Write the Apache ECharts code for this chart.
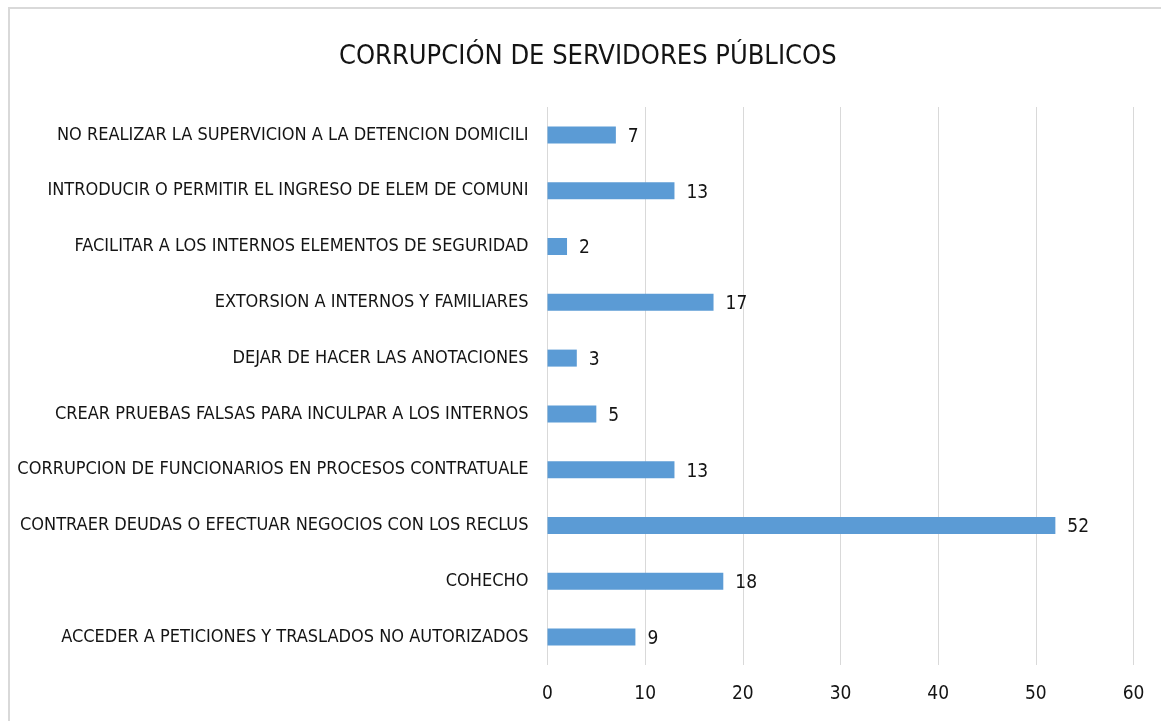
<!DOCTYPE html>
<html>
<head>
<meta charset="utf-8">
<script src="https://cdn.jsdelivr.net/npm/echarts@6/dist/echarts.min.js"></script>
<style>
  html, body { margin: 0; padding: 0; background: #fff; overflow: hidden; }
  #frame { position: absolute; left: 8px; top: 7px; width: 1170px; height: 730px; border: 2px solid #d9d9d9; }
  #chart { position: absolute; left: 0; top: 0; width: 1161px; height: 721px; }
</style>
</head>
<body>
<div id="frame"></div>
<div id="chart"></div>
<script>
// categorías de abajo hacia arriba (eje de categorías invertido en Excel)
var categories = [
  'ACCEDER A PETICIONES Y TRASLADOS NO AUTORIZADOS',
  'COHECHO',
  'CONTRAER DEUDAS O EFECTUAR NEGOCIOS CON LOS RECLUS',
  'CORRUPCION DE FUNCIONARIOS EN PROCESOS CONTRATUALE',
  'CREAR PRUEBAS FALSAS PARA INCULPAR A LOS INTERNOS',
  'DEJAR DE HACER LAS ANOTACIONES',
  'EXTORSION A INTERNOS Y FAMILIARES',
  'FACILITAR A LOS INTERNOS ELEMENTOS DE SEGURIDAD',
  'INTRODUCIR O PERMITIR EL INGRESO DE ELEM DE COMUNI',
  'NO REALIZAR LA SUPERVICION A LA DETENCION DOMICILI'
];
var values = [9, 18, 52, 13, 5, 3, 17, 2, 13, 7];

var font = '"Liberation Sans Narrow", "DejaVu Sans Condensed", sans-serif';
var textColor = '#141414';
var chart = echarts.init(document.getElementById('chart'));

chart.setOption({
  animation: false,
  title: {
    text: 'CORRUPCIÓN DE SERVIDORES PÚBLICOS',
    left: 334,
    top: 38,
    textStyle: { fontFamily: font, fontSize: 27, fontWeight: 'normal', color: textColor }
  },
  grid: { left: 547.5, right: 27.5, top: 107, bottom: 56, containLabel: false },
  xAxis: {
    type: 'value',
    min: 0,
    max: 60,
    interval: 10,
    axisLine: { show: false },
    axisTick: { show: false },
    axisLabel: { fontFamily: font, fontSize: 19, color: textColor, margin: 20 },
    splitLine: { lineStyle: { color: '#d9d9d9', width: 1 } }
  },
  yAxis: {
    type: 'category',
    data: categories,
    axisLine: { show: false },
    axisTick: { show: false },
    axisLabel: { fontFamily: font, fontSize: 18, color: textColor, margin: 19 }
  },
  series: [{
    type: 'bar',
    data: values,
    barWidth: 17,
    itemStyle: { color: '#5b9bd5' },
    label: {
      show: true,
      position: 'right',
      distance: 12,
      offset: [0, 2],
      fontFamily: font,
      fontSize: 19,
      color: textColor
    }
  }]
});
</script>
</body>
</html>
